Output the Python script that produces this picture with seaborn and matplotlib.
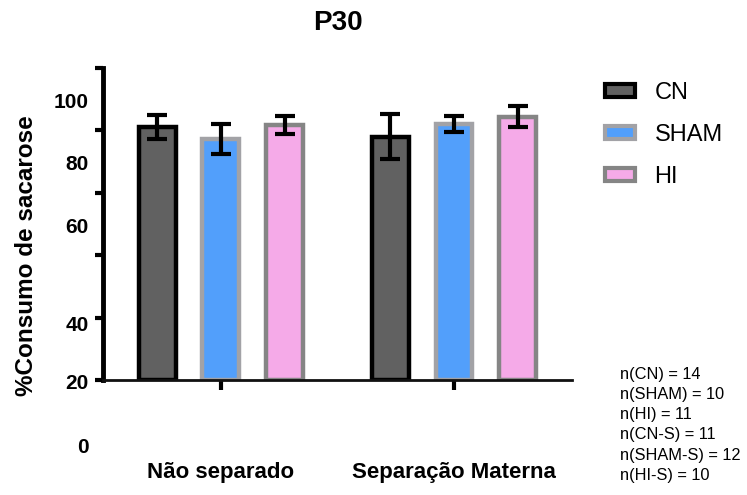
import matplotlib
matplotlib.use("Agg")
import matplotlib.pyplot as plt
from matplotlib.patches import Patch
import seaborn as sns
import pandas as pd

# ---- data ----
groups = ["Não separado", "Separação Materna"]
treatments = ["CN", "SHAM", "HI"]
means_ns = [81.0, 77.3, 81.7]      # Não separado
means_sm = [78.0, 82.0, 84.4]      # Separação Materna
sem_ns = [3.8, 4.9, 3.0]
sem_sm = [7.3, 2.6, 3.4]
ytick_values = [0, 20, 40, 60, 80, 100]
ytick_labels = ["20", "40", "60", "80", "100"]
extra_label = "0"
n_lines = ["n(CN) = 14", "n(SHAM) = 10", "n(HI) = 11",
           "n(CN-S) = 11", "n(SHAM-S) = 12", "n(HI-S) = 10"]

fills = {"CN": "#616161", "SHAM": "#529ffb", "HI": "#f5aae8"}
edges = {"CN": "#000000", "SHAM": "#a2a2a6", "HI": "#858585"}

df = pd.DataFrame({
    "grupo": [g for g in groups for _ in treatments],
    "trat": treatments * len(groups),
    "media": means_ns + means_sm,
    "sem": sem_ns + sem_sm,
})

sns.set_style("ticks")
plt.rcParams["font.family"] = ["Liberation Sans", "DejaVu Sans"]
plt.rcParams["text.color"] = "black"
plt.rcParams["xtick.color"] = "black"
plt.rcParams["ytick.color"] = "black"

fig = plt.figure(figsize=(7.47, 4.95), dpi=100)
ax = fig.add_axes([103 / 747, 1 - 380 / 495, (572 - 103) / 747, (380 - 68) / 495])

sns.barplot(data=df, x="grupo", y="media", hue="trat", hue_order=treatments,
            order=groups, palette=fills, saturation=1, errorbar=None,
            width=0.82, gap=0.42, legend=False, ax=ax)

# style bars and add error bars from the summary values
for i, t in enumerate(treatments):
    cont = ax.containers[i]
    sub = df[df["trat"] == t].set_index("grupo").loc[groups]
    xs = []
    for p in cont.patches:
        p.set_edgecolor(edges[t])
        p.set_linewidth(3.2)
        p.set_zorder(2)
        xs.append(p.get_x() + p.get_width() / 2)
    ax.errorbar(xs, sub["media"].values, yerr=sub["sem"].values, fmt="none",
                ecolor="black", elinewidth=3, capsize=7.5, capthick=3, zorder=3)

ax.set_xlim(-0.505, 1.506)
ax.set_ylim(0, 100)
ax.set_yticks(ytick_values)
ax.set_yticklabels([])
ax.tick_params(axis="y", length=5.5, width=3, color="black")
ax.tick_params(axis="x", length=7, width=3, color="black", pad=52,
               labelsize=16, labelcolor="black")
for lab in ax.get_xticklabels():
    lab.set_fontweight("bold")
ax.set_xlabel("")
ax.set_ylabel("")
sns.despine(ax=ax)
ax.spines["left"].set_linewidth(3.5)
ax.spines["bottom"].set_linewidth(2)
ax.spines["left"].set_color("black")
ax.spines["bottom"].set_color("#111111")

# y labels, placed independently of the tick marks
label_y = [-1.0, 17.6, 49.0, 69.0, 88.8]
for txt, yv in zip(ytick_labels, label_y):
    ax.text(-0.03, yv, txt, transform=ax.get_yaxis_transform(), ha="right",
            va="center", fontsize=15, fontweight="bold", color="black",
            clip_on=False)
ax.text(-0.03, -21.5, extra_label, transform=ax.get_yaxis_transform(),
        ha="right", va="center", fontsize=15, fontweight="bold",
        color="black", clip_on=False)

ax.set_title("P30", fontsize=20, fontweight="bold", pad=27, color="black")
fig.text(27 / 747, 1 - 256 / 495, "%Consumo de sacarose", rotation=90,
         ha="center", va="center", fontsize=17.5, fontweight="bold",
         color="black")

handles = [Patch(facecolor=fills[t], edgecolor=edges[t], linewidth=3)
           for t in treatments]
fig.legend(handles, treatments, loc="upper left",
           bbox_to_anchor=(605 / 747, 1 - 82 / 495), frameon=False,
           fontsize=17, handlelength=1.25, handleheight=0.5,
           handletextpad=0.85, labelspacing=0.85, borderpad=0,
           borderaxespad=0)

fig.text(620 / 747, 1 - 367 / 495, "\n".join(n_lines), ha="left", va="top",
         fontsize=11.8, linespacing=1.43, color="black")

fig.savefig("out.png", dpi=100)
